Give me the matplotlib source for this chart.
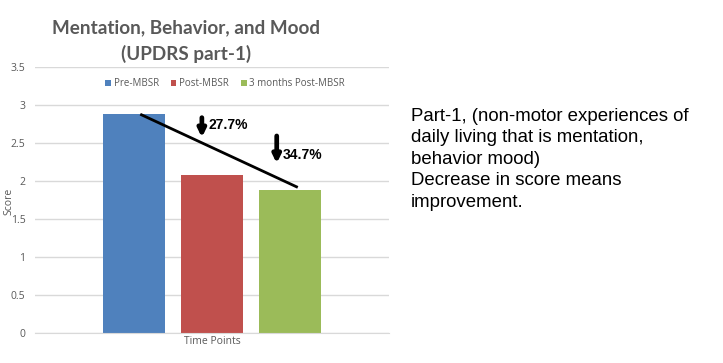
import matplotlib
matplotlib.use("Agg")
import matplotlib.pyplot as plt
import numpy as np

series = ["Pre-MBSR", "Post-MBSR", "3 months Post-MBSR"]
values = [2.88, 2.08, 1.88]
colors = ["#4F81BD", "#C0504D", "#9BBB59"]
pct_labels = ["27.7%", "34.7%"]
yticks = [0, 0.5, 1, 1.5, 2, 2.5, 3, 3.5]
ytick_labels = ["0", "0.5", "1", "1.5", "2", "2.5", "3", "3.5"]
title_lines = ["Mentation, Behavior, and Mood", "(UPDRS part-1)"]
xlabel = "Time Points"
ylabel = "Score"
side_text = ("Part-1, (non-motor experiences of\ndaily living that is mentation,\n"
             "behavior mood)\nDecrease in score means\nimprovement.")

W, H = 723, 363
fig = plt.figure(figsize=(W / 100, H / 100), dpi=100)
ax = fig.add_axes([35 / W, 1 - 333.3 / H, (389 - 35) / W, (333.3 - 66.6) / H])

gray = "#595959"
pos = np.array([-1.0, 0.0, 1.0])
bw = 0.795
for p, v, c, s in zip(pos, values, colors, series):
    ax.bar(p, v, width=bw, color=c, label=s, zorder=2)

ax.set_xlim(-2.27, 2.27)
ax.set_ylim(0, 3.5)
ax.set_yticks(yticks)
ax.set_yticklabels(ytick_labels, fontsize=7.5, color=gray, family="Open Sans")
ax.set_xticks([])
ax.yaxis.grid(True, color="#d9d9d9", linewidth=1, zorder=0)
ax.set_axisbelow(True)
for sp in ["top", "right", "left"]:
    ax.spines[sp].set_visible(False)
ax.spines["bottom"].set_color("#d9d9d9")
ax.tick_params(axis="y", length=0, pad=7)
ax.set_xlabel(xlabel, fontsize=7.5, color=gray, family="Open Sans", labelpad=2)
fig.text(8.5 / W, 1 - 201 / H, ylabel, rotation=90, ha="center", va="center",
         fontsize=7.5, color=gray, family="Open Sans")

# trend line from first bar top to last bar top
ax.plot([pos[0] + 0.08, pos[2] + 0.1], [values[0] - 0.005, values[2] + 0.035],
        color="black", linewidth=2, zorder=3, solid_capstyle="butt")

# percentage arrows
arrow_x = [-0.13, 0.83]
arrow_top = [2.83, 2.59]
arrow_bot = [2.57, 2.23]
text_y = [2.73, 2.34]
for ax_x, t, b, ty, lab in zip(arrow_x, arrow_top, arrow_bot, text_y, pct_labels):
    ax.annotate("", xy=(ax_x, b), xytext=(ax_x, t),
                arrowprops=dict(arrowstyle="-|>,head_length=0.45,head_width=0.22",
                                color="black", lw=3.4, shrinkA=0, shrinkB=0),
                zorder=4)
    ax.text(ax_x + 0.08, ty, lab, fontsize=10, fontweight="bold",
            family="Liberation Sans", va="center", ha="left", zorder=4)

leg = ax.legend(loc="upper center", bbox_to_anchor=(190 / 354, 1 - 8 / 266.7),
                ncol=3, frameon=False, fontsize=7, handlelength=0.6, handleheight=0.6,
                handletextpad=0.3, columnspacing=1.2, borderaxespad=0)
for t in leg.get_texts():
    t.set_color(gray)
    t.set_family("Open Sans")

fig.text(186 / W, 1 - 27.5 / H, title_lines[0], ha="center", va="center",
         fontsize=13.6, fontweight="bold", color=gray, family="Lato")
fig.text(186 / W, 1 - 54 / H, title_lines[1], ha="center", va="center",
         fontsize=13.6, fontweight="bold", color=gray, family="Lato")

fig.text(411 / W, 1 - 108 / H, side_text, ha="left", va="top", fontsize=13.4,
         family="Liberation Sans", color="black", linespacing=1.34)

fig.savefig("out.png", dpi=100)
